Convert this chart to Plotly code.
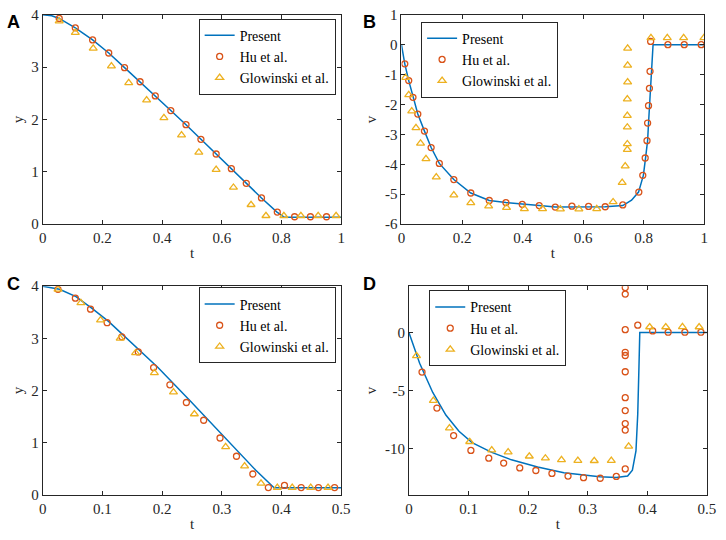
import plotly.graph_objects as go

# ---- Panel A: y(t), long time window ----
a_line_t = [0, 0.03, 0.055, 0.109, 0.167, 0.221, 0.274, 0.326, 0.377, 0.429, 0.48, 0.53,
            0.581, 0.632, 0.682, 0.733, 0.785, 0.81, 1.0]
a_line_y = [4.0, 3.98, 3.93, 3.75, 3.52, 3.27, 2.99, 2.72, 2.45, 2.17, 1.90, 1.62,
            1.34, 1.06, 0.78, 0.50, 0.23, 0.13, 0.13]
a_hu_t = [0.055, 0.109, 0.167, 0.221, 0.274, 0.326, 0.377, 0.429, 0.48, 0.53, 0.581, 0.632,
          0.682, 0.733, 0.786, 0.844, 0.897, 0.951]
a_hu_y = [3.93, 3.75, 3.52, 3.27, 2.99, 2.72, 2.45, 2.17, 1.90, 1.62, 1.34, 1.06,
          0.78, 0.50, 0.23, 0.14, 0.14, 0.14]
a_gl_t = [0.055, 0.109, 0.169, 0.230, 0.288, 0.348, 0.406, 0.465, 0.523, 0.581, 0.639, 0.698,
          0.748, 0.808, 0.865, 0.923, 0.983]
a_gl_y = [3.88, 3.66, 3.36, 3.02, 2.70, 2.37, 2.03, 1.70, 1.37, 1.04, 0.70, 0.37,
          0.16, 0.16, 0.16, 0.16, 0.16]

# ---- Panel B: v(t), long time window ----
b_line_t = [0, 0.011, 0.024, 0.038, 0.054, 0.076, 0.098, 0.125, 0.173, 0.229, 0.29, 0.345,
            0.399, 0.455, 0.508, 0.563, 0.618, 0.673, 0.731, 0.76, 0.783, 0.799, 0.806,
            0.813, 0.816, 0.819, 0.823, 0.826, 0.831, 1.0]
b_line_v = [0, -0.64, -1.20, -1.76, -2.32, -2.89, -3.44, -3.97, -4.51, -4.96, -5.21, -5.28,
            -5.34, -5.38, -5.43, -5.42, -5.42, -5.42, -5.38, -5.2, -4.93, -4.37, -3.80,
            -3.21, -2.63, -2.03, -1.46, -0.8, 0, 0]
b_hu_t = [0.011, 0.024, 0.038, 0.054, 0.076, 0.098, 0.125, 0.173, 0.229, 0.290, 0.345, 0.399,
          0.455, 0.508, 0.563, 0.618, 0.673, 0.731, 0.784, 0.797, 0.805, 0.811, 0.813, 0.816,
          0.819, 0.821, 0.823, 0.880, 0.934, 0.990]
b_hu_v = [-0.64, -1.20, -1.76, -2.32, -2.89, -3.44, -3.97, -4.51, -4.96, -5.21, -5.28, -5.34,
          -5.38, -5.43, -5.40, -5.41, -5.42, -5.36, -4.93, -4.37, -3.79, -3.21, -2.62, -2.04,
          -1.46, -0.89, 0.11, 0, 0, 0]
b_gl_t = [0.013, 0.024, 0.034, 0.048, 0.063, 0.081, 0.115, 0.173, 0.229, 0.288, 0.347, 0.406,
          0.466, 0.525, 0.586, 0.645, 0.699, 0.729, 0.739, 0.746, 0.746, 0.746, 0.746, 0.746,
          0.747, 0.747, 0.747, 0.824, 0.878, 0.932, 0.999]
b_gl_v = [-1.10, -1.68, -2.22, -2.78, -3.30, -3.82, -4.43, -5.03, -5.29, -5.40, -5.45, -5.49,
          -5.49, -5.50, -5.50, -5.49, -5.26, -4.61, -4.06, -3.51, -3.32, -2.76, -2.37, -1.82,
          -1.25, -0.69, -0.12, 0.23, 0.23, 0.23, 0.23]

# ---- Panel C: y(t), short time window ----
c_line_t = [0, 0.028, 0.0556, 0.083, 0.1106, 0.138, 0.193, 0.248, 0.3025, 0.357, 0.3876, 0.5]
c_line_y = [4.0, 3.94, 3.80, 3.57, 3.32, 3.03, 2.44, 1.79, 1.13, 0.47, 0.137, 0.137]
c_hu_t = [0.0255, 0.0546, 0.080, 0.1078, 0.1325, 0.160, 0.1857, 0.213, 0.2406, 0.2696, 0.297,
          0.3246, 0.352, 0.378, 0.405, 0.433, 0.462, 0.489]
c_hu_y = [3.94, 3.77, 3.56, 3.30, 3.03, 2.74, 2.44, 2.11, 1.77, 1.43, 1.09,
          0.74, 0.40, 0.14, 0.18, 0.14, 0.14, 0.14]
c_gl_t = [0.0255, 0.0639, 0.0968, 0.1297, 0.1555, 0.187, 0.219, 0.254, 0.3064, 0.3382, 0.3657,
          0.393, 0.418, 0.449, 0.478]
c_gl_y = [3.94, 3.68, 3.35, 3.00, 2.72, 2.34, 1.97, 1.55, 0.92, 0.55, 0.22,
          0.14, 0.14, 0.14, 0.14]

# ---- Panel D: v(t), short time window ----
d_line_t = [0, 0.018, 0.040, 0.062, 0.084, 0.106, 0.139, 0.172, 0.216, 0.260, 0.320, 0.348,
            0.367, 0.375, 0.381, 0.384, 0.386, 0.3874, 0.5]
d_line_v = [0, -2.65, -5.17, -7.12, -8.52, -9.50, -10.34, -10.98, -11.59, -12.10, -12.43, -12.5,
            -12.38, -11.87, -10.2, -7.0, -3.0, 0, 0]
d_hu_t = [0.022, 0.047, 0.075, 0.104, 0.134, 0.159, 0.186, 0.213, 0.240, 0.267, 0.293, 0.321,
          0.348, 0.363, 0.363, 0.363, 0.363, 0.363, 0.363, 0.363, 0.363, 0.363, 0.363, 0.363,
          0.384, 0.409, 0.435, 0.463, 0.490]
d_hu_v = [-3.41, -6.51, -8.89, -10.17, -10.84, -11.26, -11.68, -11.90, -12.15, -12.38, -12.52,
          -12.57, -12.41, -11.76, -8.41, -7.85, -6.73, -5.62, -3.38, -1.98, -1.70, 0.25, 3.32,
          3.88, 0.64, 0.14, 0.03, 0.03, 0.03]
d_gl_t = [0.0127, 0.041, 0.068, 0.102, 0.139, 0.1665, 0.202, 0.229, 0.256, 0.2835, 0.311,
          0.3396, 0.3687, 0.404, 0.431, 0.459, 0.487]
d_gl_v = [-2.01, -5.87, -8.24, -9.42, -10.14, -10.31, -10.67, -10.84, -10.98, -11.04, -11.06,
          -11.04, -9.81, 0.48, 0.48, 0.50, 0.48]

series_names = ['Present', 'Hu et al.', 'Glowinski et al.']
panel_letters = ['A', 'B', 'C', 'D']

# MATLAB default colours
c_line = '#0072BD'
c_hu = '#D95319'
c_gl = '#EDB120'
axis_col = '#262626'
serif = 'Times New Roman, Liberation Serif, DejaVu Serif, serif'

W, H = 726, 540

# panel boxes in pixels: (left, right, top, bottom)
boxes = [
    (39.5, 343.3, 7.0, 222.7),
    (404.7, 713.0, 7.0, 222.7),
    (39.5, 343.3, 286.7, 501.7),
    (412.3, 715.7, 286.7, 501.7),
]
# legend anchor in pixels: (x, top, xanchor)
legend_pos = [(337.7, 11, 'right'), (424.7, 14, 'left'),
              (337.7, 288, 'right'), (433, 291, 'left')]
letter_pos = [(1, 2), (364, 2), (1, 272), (364, 272)]

panels = [
    (a_line_t, a_line_y, a_hu_t, a_hu_y, a_gl_t, a_gl_y),
    (b_line_t, b_line_v, b_hu_t, b_hu_v, b_gl_t, b_gl_v),
    (c_line_t, c_line_y, c_hu_t, c_hu_y, c_gl_t, c_gl_y),
    (d_line_t, d_line_v, d_hu_t, d_hu_v, d_gl_t, d_gl_v),
]

fig = go.Figure()

for i, (lt, ly, ht, hy, gt, gy) in enumerate(panels):
    n = i + 1
    xa = 'x' if n == 1 else f'x{n}'
    ya = 'y' if n == 1 else f'y{n}'
    lg = 'legend' if n == 1 else f'legend{n}'
    fig.add_trace(go.Scatter(x=lt, y=ly, mode='lines', name=series_names[0],
                             line=dict(color=c_line, width=1.5),
                             xaxis=xa, yaxis=ya, legend=lg))
    fig.add_trace(go.Scatter(x=ht, y=hy, mode='markers', name=series_names[1],
                             marker=dict(symbol='circle-open', size=6, color=c_hu,
                                         line=dict(width=1.3, color=c_hu)),
                             xaxis=xa, yaxis=ya, legend=lg))
    fig.add_trace(go.Scatter(x=gt, y=gy, mode='markers', name=series_names[2],
                             marker=dict(symbol='triangle-up-open', size=7, color=c_gl,
                                         line=dict(width=1.3, color=c_gl)),
                             xaxis=xa, yaxis=ya, legend=lg))

axis_common = dict(showline=True, mirror='ticks', linecolor=axis_col, linewidth=1,
                   ticks='inside', ticklen=4, tickcolor=axis_col, showgrid=False,
                   zeroline=False, tickfont=dict(family=serif, size=15, color=axis_col))

x_ranges = [[0, 1], [0, 1], [0, 0.5], [0, 0.5]]
x_dticks = [0.2, 0.2, 0.1, 0.1]
y_ranges = [[0, 4], [-6, 1], [0, 4], [-14, 4]]
y_titles = ['y', 'v', 'y', 'v']

layout = dict(width=W, height=H, margin=dict(l=0, r=0, t=0, b=0),
              paper_bgcolor='white', plot_bgcolor='white')

for i in range(4):
    n = i + 1
    l, r, t, b = boxes[i]
    xkey = 'xaxis' if n == 1 else f'xaxis{n}'
    ykey = 'yaxis' if n == 1 else f'yaxis{n}'
    ya = 'y' if n == 1 else f'y{n}'
    xa = 'x' if n == 1 else f'x{n}'
    layout[xkey] = dict(axis_common, domain=[l / W, r / W], anchor=ya,
                        range=x_ranges[i], dtick=x_dticks[i], tick0=0,
                        title=dict(text='t', font=dict(family=serif, size=15, color=axis_col),
                                   standoff=2))
    yax = dict(axis_common, domain=[1 - b / H, 1 - t / H], anchor=xa,
               range=y_ranges[i], dtick=1, tick0=0,
               title=dict(text=y_titles[i], font=dict(family=serif, size=15, color=axis_col),
                          standoff=4))
    if n == 4:
        yax['tickvals'] = [-10, -5, 0]
        yax['ticktext'] = ['-10', '-5', '0']
    if n == 2:
        yax['tickvals'] = [-6, -5, -4, -3, -2, -1, 0, 1]
        yax['ticktext'] = ['-6', '-5', '-4', '-3', '-2', '-1', '0', '1']
    layout[ykey] = yax

    lx, ly_, anc = legend_pos[i]
    lkey = 'legend' if n == 1 else f'legend{n}'
    layout[lkey] = dict(x=lx / W, y=1 - ly_ / H, xanchor=anc, yanchor='top',
                        bgcolor='white', bordercolor=axis_col, borderwidth=1,
                        font=dict(family=serif, size=14, color='black'),
                        tracegroupgap=0, itemwidth=30)

fig.update_layout(**layout)

for i, letter in enumerate(panel_letters):
    px, py = letter_pos[i]
    fig.add_annotation(text=f'<b>{letter}</b>', x=px / W, y=1 - py / H, xref='paper', yref='paper',
                       xanchor='left', yanchor='top', showarrow=False,
                       font=dict(family='Liberation Sans, Arial, sans-serif', size=18, color='black'))

# drop the default page margin so the figure sits at the window origin
fig.write_html('out.html', config={'displayModeBar': False},
               post_script="document.body.style.margin='0';")
